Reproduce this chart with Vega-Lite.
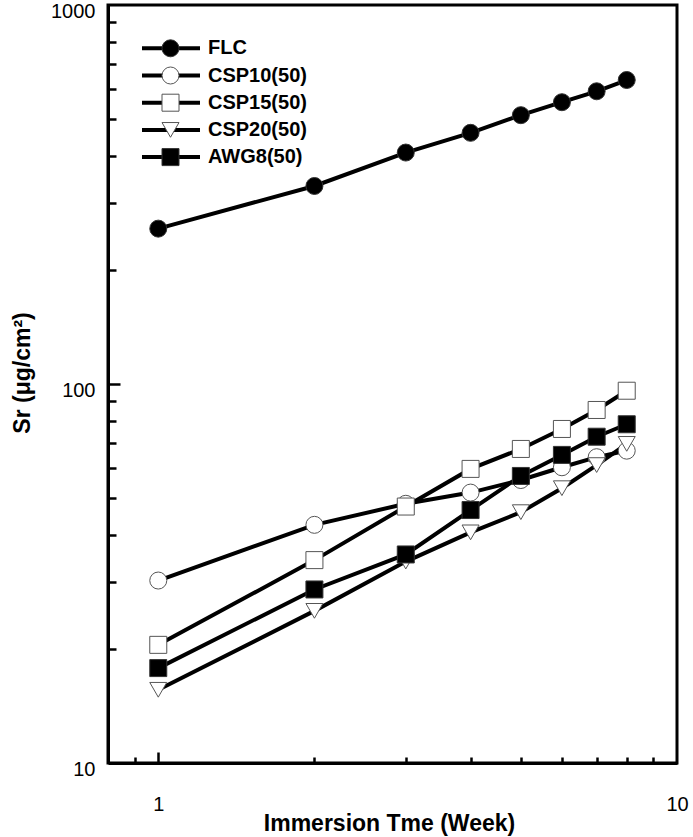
{
  "$schema": "https://vega.github.io/schema/vega-lite/v6.json",
  "width": 569,
  "height": 758,
  "autosize": {"type": "none"},
  "padding": {"left": 108, "top": 5, "right": 16, "bottom": 74},
  "background": "white",
  "config": {
    "view": {"stroke": "black", "strokeWidth": 3},
    "axis": {
      "grid": false,
      "labelFont": "Liberation Sans",
      "labelFontSize": 20,
      "labelColor": "black",
      "titleFont": "Liberation Sans",
      "titleFontSize": 23,
      "titleFontWeight": "bold",
      "titleColor": "black",
      "domainColor": "black",
      "domainWidth": 3,
      "tickColor": "black",
      "tickWidth": 2.5
    }
  },
  "data": {
    "values": [
      {"week": 1, "series": "FLC", "value": 257},
      {"week": 2, "series": "FLC", "value": 333},
      {"week": 3, "series": "FLC", "value": 408},
      {"week": 4, "series": "FLC", "value": 460},
      {"week": 5, "series": "FLC", "value": 512},
      {"week": 6, "series": "FLC", "value": 554},
      {"week": 7, "series": "FLC", "value": 592},
      {"week": 8, "series": "FLC", "value": 634},
      {"week": 1, "series": "CSP10(50)", "value": 30.3},
      {"week": 2, "series": "CSP10(50)", "value": 42.5},
      {"week": 3, "series": "CSP10(50)", "value": 48.3},
      {"week": 4, "series": "CSP10(50)", "value": 51.7},
      {"week": 5, "series": "CSP10(50)", "value": 55.8},
      {"week": 6, "series": "CSP10(50)", "value": 60.3},
      {"week": 7, "series": "CSP10(50)", "value": 64.1},
      {"week": 8, "series": "CSP10(50)", "value": 66.7},
      {"week": 1, "series": "CSP15(50)", "value": 20.5},
      {"week": 2, "series": "CSP15(50)", "value": 34.3},
      {"week": 3, "series": "CSP15(50)", "value": 47.5},
      {"week": 4, "series": "CSP15(50)", "value": 59.7},
      {"week": 5, "series": "CSP15(50)", "value": 67.4},
      {"week": 6, "series": "CSP15(50)", "value": 76.1},
      {"week": 7, "series": "CSP15(50)", "value": 85.4},
      {"week": 8, "series": "CSP15(50)", "value": 96.0},
      {"week": 1, "series": "CSP20(50)", "value": 15.6},
      {"week": 2, "series": "CSP20(50)", "value": 25.2},
      {"week": 3, "series": "CSP20(50)", "value": 34.0},
      {"week": 4, "series": "CSP20(50)", "value": 40.6},
      {"week": 5, "series": "CSP20(50)", "value": 45.9},
      {"week": 6, "series": "CSP20(50)", "value": 53.1},
      {"week": 7, "series": "CSP20(50)", "value": 61.1},
      {"week": 8, "series": "CSP20(50)", "value": 69.5},
      {"week": 1, "series": "AWG8(50)", "value": 17.8},
      {"week": 2, "series": "AWG8(50)", "value": 28.7},
      {"week": 3, "series": "AWG8(50)", "value": 35.5},
      {"week": 4, "series": "AWG8(50)", "value": 46.5},
      {"week": 5, "series": "AWG8(50)", "value": 57.2},
      {"week": 6, "series": "AWG8(50)", "value": 65.0},
      {"week": 7, "series": "AWG8(50)", "value": 72.6},
      {"week": 8, "series": "AWG8(50)", "value": 78.3}
    ]
  },
  "layer": [
    {
      "mark": {"type": "line", "strokeWidth": 4},
      "encoding": {
        "x": {
          "field": "week", "type": "quantitative",
          "scale": {"type": "log", "domain": [0.8, 10]},
          "axis": {
            "orient": "bottom", "values": [1, 10], "ticks": false, "format": "d",
            "labelFlush": false, "labelBaseline": "alphabetic", "labelPadding": 47,
            "title": "Immersion Tme (Week)", "titleX": 281, "titleY": 67,
            "titleBaseline": "alphabetic", "titleAlign": "center"
          }
        },
        "y": {
          "field": "value", "type": "quantitative",
          "scale": {"type": "log", "domain": [10, 1000]},
          "axis": {
            "orient": "left", "values": [10, 100, 1000], "ticks": false, "format": "d",
            "labelPadding": 13, "labelBaseline": "alphabetic", "labelOffset": 12,
            "title": "Sr (μg/cm²)", "titleX": -79, "titleY": 367.5, "titleAngle": 270,
            "titleBaseline": "alphabetic", "titleAlign": "center"
          }
        },
        "color": {
          "field": "series", "type": "nominal",
          "scale": {
            "domain": ["FLC", "CSP10(50)", "CSP15(50)", "CSP20(50)", "AWG8(50)"],
            "range": ["black", "black", "black", "black", "black"]
          },
          "legend": {
            "orient": "none", "legendX": 32, "legendY": 29.8, "title": null,
            "padding": 0, "rowPadding": 0.2, "clipHeight": 27,
            "symbolType": "stroke", "symbolSize": 3364, "symbolStrokeWidth": 4,
            "symbolStrokeColor": "black",
            "labelFont": "Liberation Sans", "labelFontSize": 20, "labelFontWeight": "bold",
            "labelColor": "black", "labelOffset": 6, "labelLimit": 300
          }
        }
      }
    },
    {
      "mark": {"type": "point", "filled": true, "size": 289, "strokeWidth": 1, "opacity": 1},
      "encoding": {
        "x": {
          "field": "week", "type": "quantitative",
          "scale": {"type": "log", "domain": [0.8, 10]},
          "axis": {
            "orient": "bottom", "values": [0.9, 1, 2, 3, 4, 5, 6, 7, 8, 9],
            "labels": false, "domain": false, "title": null,
            "tickSize": {"condition": {"test": "datum.value == 1", "value": -11}, "value": -6}
          }
        },
        "y": {
          "field": "value", "type": "quantitative",
          "scale": {"type": "log", "domain": [10, 1000]},
          "axis": {
            "orient": "left",
            "values": [20, 30, 40, 50, 60, 70, 80, 90, 100, 200, 300, 400, 500, 600, 700, 800, 900],
            "labels": false, "domain": false, "title": null,
            "tickSize": {"condition": {"test": "datum.value == 100", "value": -12}, "value": -8}
          }
        },
        "shape": {
          "field": "series", "type": "nominal",
          "scale": {
            "domain": ["FLC", "CSP10(50)", "CSP15(50)", "CSP20(50)", "AWG8(50)", "_"],
            "range": ["circle", "circle", "square", "triangle-down", "square", "circle"]
          },
          "legend": {
            "orient": "none", "legendX": 32, "legendY": 29.8, "title": null,
            "values": ["FLC", "CSP10(50)", "CSP15(50)", "CSP20(50)", "AWG8(50)"],
            "padding": 0, "rowPadding": 0.2, "clipHeight": 27,
            "symbolSize": 289, "symbolOffset": 20.5, "symbolStrokeWidth": 1,
            "labelExpr": "''", "labelOpacity": 0, "labelFontSize": 20, "labelFontWeight": "bold"
          }
        },
        "fill": {
          "field": "series", "type": "nominal",
          "scale": {
            "domain": ["FLC", "CSP10(50)", "CSP15(50)", "CSP20(50)", "AWG8(50)", "_"],
            "range": ["black", "white", "white", "white", "black", "white"]
          },
          "legend": {
            "orient": "none", "legendX": 32, "legendY": 29.8, "title": null,
            "values": ["FLC", "CSP10(50)", "CSP15(50)", "CSP20(50)", "AWG8(50)"],
            "padding": 0, "rowPadding": 0.2, "clipHeight": 27,
            "symbolSize": 289, "symbolOffset": 20.5, "symbolStrokeWidth": 1,
            "labelExpr": "''", "labelOpacity": 0, "labelFontSize": 20, "labelFontWeight": "bold"
          }
        },
        "stroke": {
          "field": "series", "type": "nominal",
          "scale": {
            "domain": ["FLC", "CSP10(50)", "CSP15(50)", "CSP20(50)", "AWG8(50)", "_"],
            "range": ["#333", "#555", "#555", "#555", "#333", "#555"]
          },
          "legend": {
            "orient": "none", "legendX": 32, "legendY": 29.8, "title": null,
            "values": ["FLC", "CSP10(50)", "CSP15(50)", "CSP20(50)", "AWG8(50)"],
            "padding": 0, "rowPadding": 0.2, "clipHeight": 27,
            "symbolSize": 289, "symbolOffset": 20.5, "symbolStrokeWidth": 1,
            "labelExpr": "''", "labelOpacity": 0, "labelFontSize": 20, "labelFontWeight": "bold"
          }
        }
      }
    }
  ],
  "resolve": {"axis": {"x": "independent", "y": "independent"}}
}
